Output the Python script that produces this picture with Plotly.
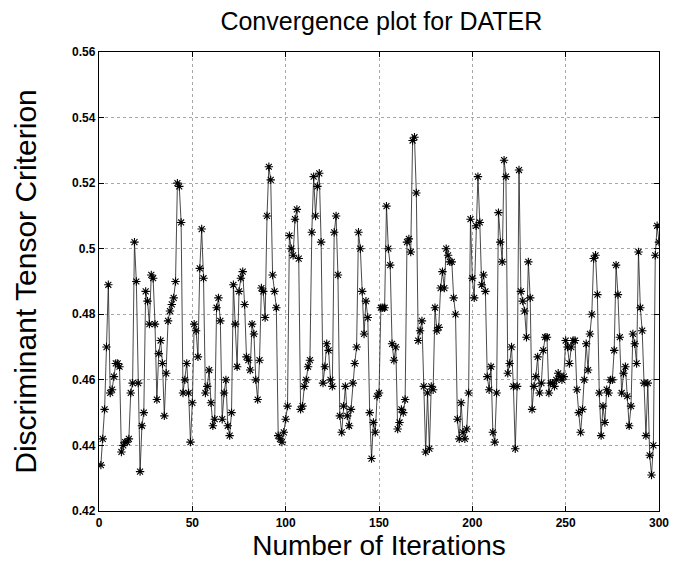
import plotly.graph_objects as go

# Discriminant tensor criterion per iteration
crit_001_050 = [0.434, 0.442, 0.451, 0.470, 0.489, 0.456, 0.457, 0.461, 0.465, 0.465,
                0.464, 0.438, 0.440, 0.441, 0.441, 0.442, 0.456, 0.459, 0.502, 0.490,
                0.459, 0.432, 0.446, 0.450, 0.487, 0.484, 0.477, 0.492, 0.491, 0.477,
                0.454, 0.468, 0.472, 0.465, 0.449, 0.462, 0.478, 0.481, 0.483, 0.485,
                0.490, 0.520, 0.519, 0.508, 0.456, 0.460, 0.465, 0.456, 0.441, 0.453]
crit_051_100 = [0.477, 0.475, 0.467, 0.494, 0.506, 0.491, 0.456, 0.458, 0.463, 0.453,
                0.446, 0.448, 0.482, 0.485, 0.478, 0.448, 0.456, 0.460, 0.446, 0.443,
                0.450, 0.489, 0.477, 0.464, 0.487, 0.491, 0.493, 0.483, 0.467, 0.466,
                0.463, 0.477, 0.474, 0.460, 0.454, 0.466, 0.488, 0.487, 0.479, 0.510,
                0.525, 0.521, 0.492, 0.487, 0.482, 0.443, 0.442, 0.441, 0.444, 0.448]
crit_101_150 = [0.452, 0.504, 0.500, 0.498, 0.509, 0.512, 0.497, 0.451, 0.452, 0.458,
                0.460, 0.464, 0.466, 0.505, 0.522, 0.510, 0.519, 0.523, 0.502, 0.459,
                0.464, 0.471, 0.469, 0.460, 0.458, 0.505, 0.510, 0.492, 0.449, 0.444,
                0.452, 0.458, 0.449, 0.446, 0.451, 0.459, 0.465, 0.470, 0.505, 0.500,
                0.487, 0.474, 0.484, 0.479, 0.450, 0.436, 0.447, 0.444, 0.455, 0.456]
crit_151_200 = [0.482, 0.482, 0.482, 0.513, 0.500, 0.495, 0.471, 0.466, 0.470, 0.445,
                0.447, 0.451, 0.450, 0.454, 0.502, 0.503, 0.499, 0.533, 0.534, 0.517,
                0.472, 0.475, 0.478, 0.458, 0.438, 0.456, 0.439, 0.458, 0.457, 0.482,
                0.475, 0.476, 0.488, 0.493, 0.488, 0.500, 0.498, 0.496, 0.496, 0.485,
                0.480, 0.448, 0.442, 0.453, 0.444, 0.442, 0.445, 0.456, 0.509, 0.491]
crit_201_250 = [0.485, 0.507, 0.522, 0.508, 0.489, 0.492, 0.487, 0.461, 0.457, 0.464,
                0.444, 0.441, 0.456, 0.511, 0.502, 0.496, 0.527, 0.522, 0.462, 0.465,
                0.470, 0.458, 0.439, 0.458, 0.524, 0.487, 0.484, 0.481, 0.473, 0.496,
                0.485, 0.451, 0.458, 0.461, 0.467, 0.456, 0.459, 0.469, 0.473, 0.473,
                0.456, 0.459, 0.459, 0.458, 0.460, 0.462, 0.461, 0.460, 0.461, 0.472]
crit_251_300 = [0.470, 0.465, 0.470, 0.472, 0.472, 0.457, 0.450, 0.444, 0.451, 0.460,
                0.471, 0.463, 0.474, 0.480, 0.497, 0.498, 0.486, 0.456, 0.443, 0.452,
                0.447, 0.457, 0.456, 0.460, 0.460, 0.469, 0.495, 0.486, 0.473, 0.456,
                0.462, 0.464, 0.455, 0.446, 0.452, 0.474, 0.471, 0.465, 0.499, 0.482,
                0.475, 0.459, 0.443, 0.459, 0.437, 0.431, 0.440, 0.498, 0.507, 0.502]

criterion = (crit_001_050 + crit_051_100 + crit_101_150 +
             crit_151_200 + crit_201_250 + crit_251_300)
iterations = list(range(1, len(criterion) + 1))

x_ticks = [0, 50, 100, 150, 200, 250, 300]
y_ticks = [0.42, 0.44, 0.46, 0.48, 0.50, 0.52, 0.54, 0.56]
y_tick_labels = ["0.42", "0.44", "0.46", "0.48", "0.5", "0.52", "0.54", "0.56"]

FONT = "Liberation Sans, Arial, sans-serif"

fig = go.Figure()
fig.add_trace(go.Scatter(
    x=iterations, y=criterion, mode="lines+markers",
    line=dict(color="#1a1a1a", width=0.8),
    marker=dict(symbol="asterisk-open", size=7, color="black",
                line=dict(color="black", width=1.1)),
    showlegend=False,
))

axis_common = dict(
    showline=True, linecolor="black", linewidth=1.4, mirror="allticks",
    ticks="inside", ticklen=5, tickcolor="black", tickwidth=1,
    showgrid=True, gridcolor="#a8a8a8", griddash="dot", gridwidth=0.8,
    zeroline=False,
    tickfont=dict(family=FONT, size=12, color="black", weight="bold"),
)

fig.update_layout(
    width=681, height=567,
    margin=dict(l=99, r=19, t=52, b=53),
    paper_bgcolor="white", plot_bgcolor="white",
    title=dict(text="Convergence plot for DATER", x=0.56, xanchor="center",
               y=0.962, yanchor="middle",
               font=dict(family=FONT, size=25, color="black")),
    xaxis=dict(range=[0, 300], tickvals=x_ticks, ticktext=[str(t) for t in x_ticks],
               title=dict(text="Number of Iterations", standoff=6,
                          font=dict(family=FONT, size=28, color="black")),
               **axis_common),
    yaxis=dict(range=[0.42, 0.56], tickvals=y_ticks, ticktext=y_tick_labels,
               title=dict(text="Discriminant Tensor Criterion", standoff=26,
                          font=dict(family=FONT, size=30, color="black")),
               **axis_common),
)

fig.write_html("out.html")
